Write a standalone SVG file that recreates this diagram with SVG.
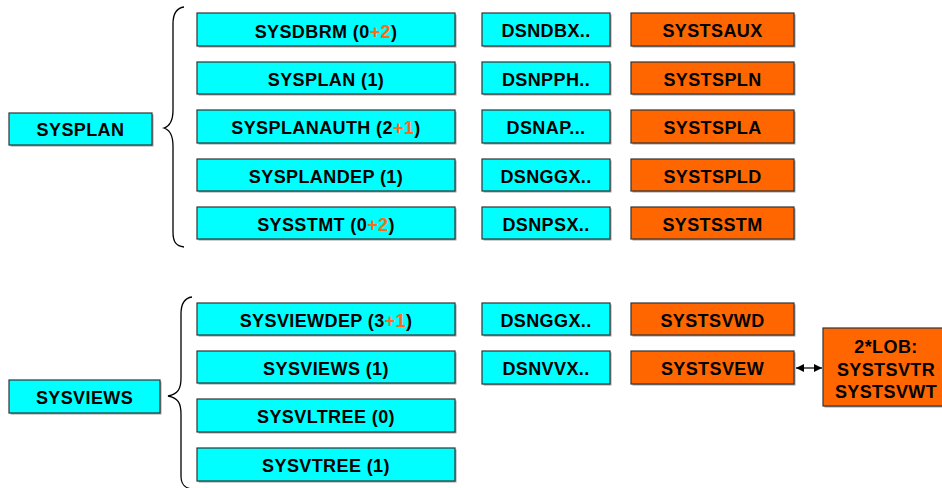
<svg xmlns="http://www.w3.org/2000/svg" width="942" height="488" viewBox="0 0 942 488">
  <style>
    .box rect.b { stroke: #333; stroke-width: 1.2; }
    .box rect.s { fill: #a0a0a0; }
    .cy rect.b { fill: #00FFFF; }
    .or rect.b { fill: #FF6600; }
    text { font-family: "Liberation Sans", Arial, sans-serif; font-weight: bold; font-size: 18px; letter-spacing: 0.4px; fill: #000; text-anchor: middle; }
    .plus { fill: #FF6A1A; }
    .brace { fill: none; stroke: #000; stroke-width: 1.3; }
    .conn { stroke: #000; stroke-width: 1.2; fill: none; }
  </style>
  <defs>
    <marker id="ah" viewBox="0 0 10 10" refX="10" refY="5" markerWidth="8" markerHeight="8" orient="auto-start-reverse" markerUnits="userSpaceOnUse">
      <path d="M0,0 L10,5 L0,10 Z" fill="#000"/>
    </marker>
  </defs>

  <!-- braces -->
  <g id="braces">
    <path class="brace" d="M184,7 C176,8 173,14 173,24 L173,110 C173,121 170,126 164,128 C170,130 173,135 173,146 L173,232 C173,242 176,246 184,247"/>
    <path class="brace" d="M192,297 C184,298 181,304 181,314 L181,378 C181,389 178,394 168,396 C178,398 181,403 181,414 L181,476 C181,484 184,488 192,489"/>
  </g>

  <!-- connectors -->
  <g id="connectors">
    <line class="conn" x1="796" y1="368" x2="822" y2="368" marker-start="url(#ah)" marker-end="url(#ah)"/>
  </g>

  <!-- top group -->
  <g id="sysplan" class="box cy">
    <rect class="s" x="10.5" y="114.5" width="143" height="32"/>
    <rect class="b" x="9" y="113" width="143" height="32"/>
    <text x="80.5" y="136">SYSPLAN</text>
  </g>

  <g id="sysdbrm" class="box cy">
    <rect class="s" x="198.5" y="14.5" width="258" height="33"/>
    <rect class="b" x="197" y="13" width="258" height="33"/>
    <text x="326" y="37.5">SYSDBRM (0<tspan class="plus">+2</tspan>)</text>
  </g>
  <g id="sysplan-t" class="box cy">
    <rect class="s" x="198.5" y="63.5" width="258" height="32"/>
    <rect class="b" x="197" y="62" width="258" height="32"/>
    <text x="326" y="85.5">SYSPLAN (1)</text>
  </g>
  <g id="sysplanauth" class="box cy">
    <rect class="s" x="198.5" y="111.5" width="258" height="33"/>
    <rect class="b" x="197" y="110" width="258" height="33"/>
    <text x="326" y="134">SYSPLANAUTH (2<tspan class="plus">+1</tspan>)</text>
  </g>
  <g id="sysplandep" class="box cy">
    <rect class="s" x="198.5" y="160.5" width="258" height="32"/>
    <rect class="b" x="197" y="159" width="258" height="32"/>
    <text x="326" y="182.5">SYSPLANDEP (1)</text>
  </g>
  <g id="sysstmt" class="box cy">
    <rect class="s" x="198.5" y="208.5" width="258" height="32"/>
    <rect class="b" x="197" y="207" width="258" height="32"/>
    <text x="326" y="230.5">SYSSTMT (0<tspan class="plus">+2</tspan>)</text>
  </g>

  <g id="dsndbx" class="box cy">
    <rect class="s" x="483.5" y="14.5" width="128" height="33"/>
    <rect class="b" x="482" y="13" width="128" height="33"/>
    <text x="546" y="37">DSNDBX..</text>
  </g>
  <g id="dsnpph" class="box cy">
    <rect class="s" x="483.5" y="63.5" width="128" height="32"/>
    <rect class="b" x="482" y="62" width="128" height="32"/>
    <text x="546" y="85.5">DSNPPH..</text>
  </g>
  <g id="dsnap" class="box cy">
    <rect class="s" x="483.5" y="111.5" width="128" height="33"/>
    <rect class="b" x="482" y="110" width="128" height="33"/>
    <text x="546" y="134">DSNAP...</text>
  </g>
  <g id="dsnggx1" class="box cy">
    <rect class="s" x="483.5" y="160.5" width="128" height="32"/>
    <rect class="b" x="482" y="159" width="128" height="32"/>
    <text x="546" y="182.5">DSNGGX..</text>
  </g>
  <g id="dsnpsx" class="box cy">
    <rect class="s" x="483.5" y="208.5" width="128" height="32"/>
    <rect class="b" x="482" y="207" width="128" height="32"/>
    <text x="546" y="230.5">DSNPSX..</text>
  </g>

  <g id="systsaux" class="box or">
    <rect class="s" x="632.5" y="14.5" width="163" height="33"/>
    <rect class="b" x="631" y="13" width="163" height="33"/>
    <text x="712.5" y="37">SYSTSAUX</text>
  </g>
  <g id="systspln" class="box or">
    <rect class="s" x="632.5" y="63.5" width="163" height="32"/>
    <rect class="b" x="631" y="62" width="163" height="32"/>
    <text x="712.5" y="85.5">SYSTSPLN</text>
  </g>
  <g id="systspla" class="box or">
    <rect class="s" x="632.5" y="111.5" width="163" height="33"/>
    <rect class="b" x="631" y="110" width="163" height="33"/>
    <text x="712.5" y="134">SYSTSPLA</text>
  </g>
  <g id="systspld" class="box or">
    <rect class="s" x="632.5" y="160.5" width="163" height="32"/>
    <rect class="b" x="631" y="159" width="163" height="32"/>
    <text x="712.5" y="182.5">SYSTSPLD</text>
  </g>
  <g id="systsstm" class="box or">
    <rect class="s" x="632.5" y="208.5" width="163" height="32"/>
    <rect class="b" x="631" y="207" width="163" height="32"/>
    <text x="712.5" y="230.5">SYSTSSTM</text>
  </g>

  <!-- bottom group -->
  <g id="sysviews" class="box cy">
    <rect class="s" x="10.5" y="381.5" width="151" height="33"/>
    <rect class="b" x="9" y="380" width="151" height="33"/>
    <text x="84.5" y="403.5">SYSVIEWS</text>
  </g>

  <g id="sysviewdep" class="box cy">
    <rect class="s" x="198.5" y="304.5" width="258" height="32"/>
    <rect class="b" x="197" y="303" width="258" height="32"/>
    <text x="326" y="326.5">SYSVIEWDEP (3<tspan class="plus">+1</tspan>)</text>
  </g>
  <g id="sysviews-t" class="box cy">
    <rect class="s" x="198.5" y="352.5" width="258" height="32"/>
    <rect class="b" x="197" y="351" width="258" height="32"/>
    <text x="326" y="374.5">SYSVIEWS (1)</text>
  </g>
  <g id="sysvltree" class="box cy">
    <rect class="s" x="198.5" y="400.5" width="258" height="33"/>
    <rect class="b" x="197" y="399" width="258" height="33"/>
    <text x="326" y="423">SYSVLTREE (0)</text>
  </g>
  <g id="sysvtree" class="box cy">
    <rect class="s" x="198.5" y="449.5" width="258" height="33"/>
    <rect class="b" x="197" y="448" width="258" height="33"/>
    <text x="326" y="472">SYSVTREE (1)</text>
  </g>

  <g id="dsnggx2" class="box cy">
    <rect class="s" x="483.5" y="304.5" width="128" height="32"/>
    <rect class="b" x="482" y="303" width="128" height="32"/>
    <text x="546" y="326.5">DSNGGX..</text>
  </g>
  <g id="dsnvvx" class="box cy">
    <rect class="s" x="483.5" y="352.5" width="128" height="33"/>
    <rect class="b" x="482" y="351" width="128" height="33"/>
    <text x="546" y="375">DSNVVX..</text>
  </g>

  <g id="systsvwd" class="box or">
    <rect class="s" x="632.5" y="304.5" width="163" height="32"/>
    <rect class="b" x="631" y="303" width="163" height="32"/>
    <text x="712.5" y="326.5">SYSTSVWD</text>
  </g>
  <g id="systsvew" class="box or">
    <rect class="s" x="632.5" y="352.5" width="163" height="33"/>
    <rect class="b" x="631" y="351" width="163" height="33"/>
    <text x="712.5" y="375">SYSTSVEW</text>
  </g>

  <g id="lob" class="box or">
    <rect class="s" x="824.5" y="329.5" width="126" height="78"/>
    <rect class="b" x="823" y="328" width="126" height="78"/>
    <text x="886" y="353">2*LOB:</text>
    <text x="886" y="375.5">SYSTSVTR</text>
    <text x="886" y="397.5">SYSTSVWT</text>
  </g>
</svg>
